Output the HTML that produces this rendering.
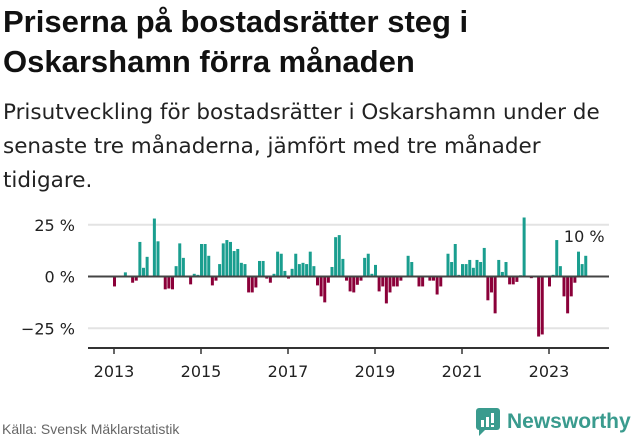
<!DOCTYPE html>
<html><head><meta charset="utf-8"><style>
body{margin:0;width:631px;height:439px;background:#fff;font-family:"Liberation Sans","DejaVu Sans",sans-serif;overflow:hidden;position:relative}
.t{position:absolute;left:3px;top:2px;font-weight:bold;font-size:31px;line-height:40px;color:#111;margin:0;white-space:nowrap}
.s{position:absolute;left:3px;top:96px;font-family:"DejaVu Sans",sans-serif;font-size:21.5px;line-height:34px;color:#222;margin:0;white-space:nowrap}
.f{position:absolute;left:2px;top:421px;font-size:14px;color:#666}
</style></head><body>
<h1 class="t">Priserna på bostadsrätter steg i<br>Oskarshamn förra månaden</h1>
<p class="s">Prisutveckling för bostadsrätter i Oskarshamn under de<br>senaste tre månaderna, jämfört med tre månader<br>tidigare.</p>
<svg id="c" width="631" height="439" style="position:absolute;left:0;top:0"></svg>
<div class="f">Källa: Svensk Mäklarstatistik</div>
<div style="position:absolute;left:476px;top:408px;display:flex;align-items:center">
<svg width="24" height="28" viewBox="0 0 24 28"><rect x="0" y="0" width="24" height="22" rx="3" fill="#3a9b8e"/><path d="M3 22 L3 28 L9 22Z" fill="#3a9b8e"/><rect x="5" y="12" width="3" height="7" fill="#fff"/><rect x="10" y="9" width="3" height="10" fill="#fff"/><rect x="15" y="5" width="3" height="10" fill="#fff"/><rect x="15" y="17" width="3" height="2" fill="#fff"/></svg>
<span style="margin-left:7px;font-size:21px;color:#3a9b8e;font-weight:bold">Newsworthy</span></div>
<script>
const yTicks=[25,0,-25];
const yTickLabels=["25 %","0 %","−25 %"];
const xTicks=[2013,2015,2017,2019,2021,2023];
const startYear=2013;
const values=[-4.8,null,null,2,null,-3,-2,16.7,4.2,9.5,null,28,17,null,-6.2,-5.8,-6.2,5,16,9,null,-3.8,1.3,0.8,15.7,15.7,10,-4.3,-2,6,16,17.6,16.7,12.3,13.3,6.6,6,-7.7,-7.7,-5.3,7.5,7.5,-1,-3,1.3,12,11,2.7,-1,3.7,11,6,6.6,6,12,5,-4.3,-9.6,-12.5,-3,4.6,19,20,8.5,-2,-7.2,-7.7,-4,-2,9,11,1.3,5.6,-7.2,-4.8,-13,-7.7,-4.8,-4.8,-2,null,10,7,null,-4.8,-4.8,null,-2,-2,-8.7,-4.8,null,11,7,15.7,0.8,6,6,8,4.2,8,7,13.8,-11.5,-7.7,-17.8,8,2.2,7,-3.8,-3.8,-2.6,0.6,28.5,null,-0.8,null,-29,-28,null,-4.8,0.8,17.6,5,-9.6,-17.8,-9.6,-3,12,6,10];
const lastLabel="10 %";
const svg=document.getElementById('c');const NS="http://www.w3.org/2000/svg";
const y=v=>276.5-v*2.07;
const x=yr=>114+(yr-2013)*43.5;
function mk(t,a){const e=document.createElementNS(NS,t);for(const k in a)e.setAttribute(k,a[k]);svg.appendChild(e);return e;}
yTicks.forEach((t,i)=>{
 if(t!==0){const g=mk('line',{x1:88,x2:609,y1:y(t),y2:y(t),stroke:'#e3e3e3','stroke-width':2});
 
 }
 const l=mk('text',{x:75,y:y(t)+6,'text-anchor':'end','font-size':16,fill:'#222','font-family':'DejaVu Sans'});l.textContent=yTickLabels[i];
 
 
});
values.forEach((v,i)=>{if(v===null)return;
 const xx=x(startYear+i/12)-1;
 const r=mk('rect',{x:xx,width:3,y:Math.min(y(v),y(0)),height:Math.abs(y(v)-y(0)),fill:v>=0?'#1a9e8f':'#8b0039'});
 
 
});
const z=mk('line',{x1:88,x2:609,y1:y(0),y2:y(0),stroke:'#444','stroke-width':2});


const ax=mk('line',{x1:88,x2:609,y1:348,y2:348,stroke:'#333','stroke-width':2});


xTicks.forEach(t=>{mk('line',{x1:x(t),x2:x(t),y1:348,y2:354,stroke:'#333','stroke-width':1.5});
 const l=mk('text',{x:x(t),y:377,'text-anchor':'middle','font-size':16,fill:'#222','font-family':'DejaVu Sans'});l.textContent=t;
 
 
});
const li=values.length-1;
const lb=mk('text',{x:x(startYear+li/12)-1,y:y(values[li])-14,'text-anchor':'middle','font-size':16,fill:'#222','font-family':'DejaVu Sans'});lb.textContent=lastLabel;


</script>
</body></html>
